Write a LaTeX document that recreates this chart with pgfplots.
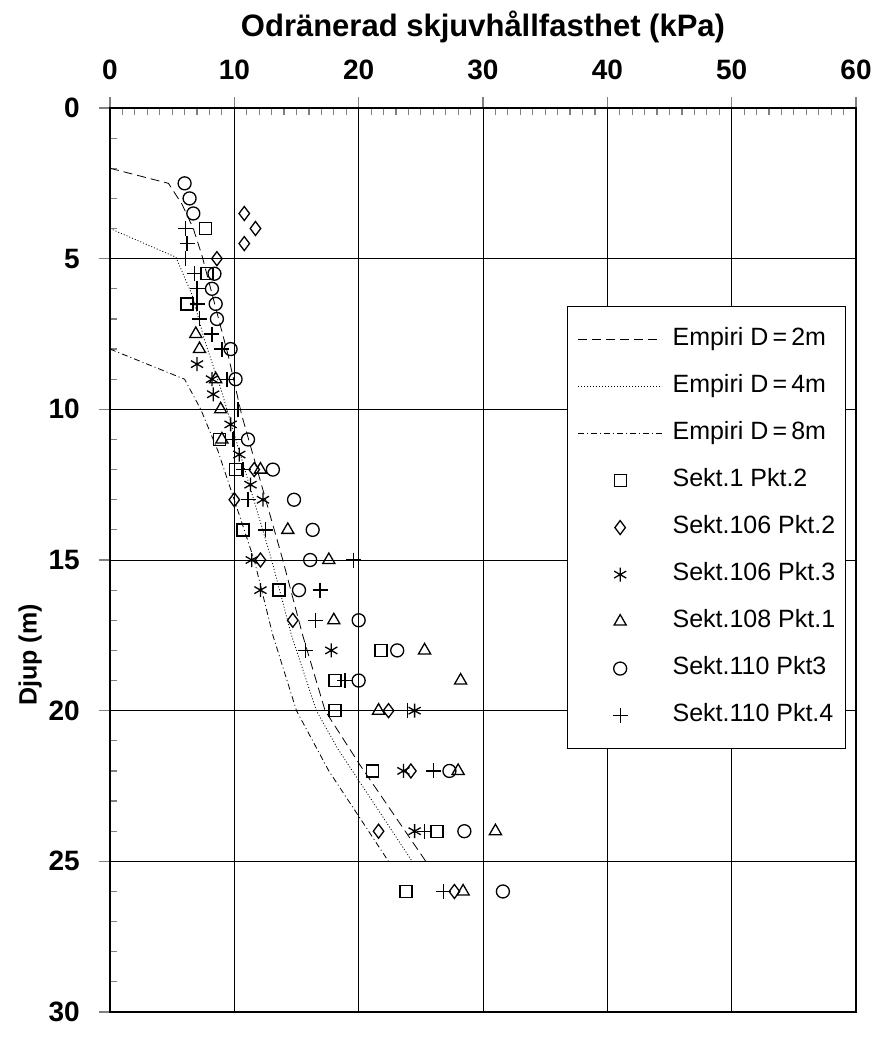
\documentclass[border=0pt]{standalone}
\usepackage{fontspec}
\setmainfont{Liberation Sans}
\usepackage{pgfplots}
\pgfplotsset{compat=1.18}

\begin{document}
\begin{tikzpicture}
\useasboundingbox (-110pt,-31pt) rectangle (762pt,1012pt);
\begin{axis}[
    scale only axis,
    width=746pt, height=904pt,
    xmin=0, xmax=60, ymin=0, ymax=30,
    y dir=reverse,
    xtick={0,10,...,60}, ytick={0,5,...,30},
    minor x tick num=9, minor y tick num=4,
    xtick pos=upper, xticklabel pos=upper,
    ytick pos=left,
    tick align=outside,
    major tick length=11pt, minor tick length=-7pt,
    major tick style={line width=1.2pt},
    minor tick style={line width=1.2pt},
    grid=major,
    major grid style={black, line width=0.8pt},
    axis line style={line width=1.5pt},
    xticklabel={\textbf{\pgfmathprintnumber[assume math mode=true]{\tick}}},
    yticklabel={\textbf{\pgfmathprintnumber[assume math mode=true]{\tick}}},
    tick label style={font=\fontsize{28}{28}\selectfont, inner sep=0pt},
    xticklabel style={anchor=south, yshift=17pt},
    yticklabel style={anchor=east, xshift=-19pt},
    xlabel={\bfseries Odränerad skjuvhållfasthet (kPa)},
    xlabel style={font=\fontsize{31}{31}\selectfont, at={(axis description cs:0.5,1)}, anchor=base, yshift=72pt},
    ylabel={\bfseries Djup (m)},
    ylabel style={font=\fontsize{25}{25}\selectfont, at={(axis description cs:-0.107,0.395)}, anchor=center},
    legend image code/.code={\draw[mark repeat=2, mark phase=2, #1] plot coordinates {(0pt,0pt) (42pt,0pt) (84pt,0pt)};},
    legend cell align=left,
    legend style={at={(axis cs:36.77,6.57)}, anchor=north west, draw=black, line width=1.2pt, fill=white,
        font=\fontsize{25}{29}\selectfont, row sep=25pt, column sep=10pt, inner xsep=10pt, inner ysep=22pt,
        nodes={inner sep=0pt, text height=17pt, text depth=5pt}},
]
\addplot[black, line width=0.8pt, dash pattern=on 9pt off 5pt] coordinates {
    (0,2) (4.7,2.5) (5.8,3.2) (6.7,4.0) (7.4,4.9) (9.5,8.2) (10.6,10.2)
    (13.9,15) (15.5,17.5) (17.3,20) (20.1,21.8) (25.4,25)};
\addlegendentry{Empiri D\thinspace=\thinspace2m}
\addplot[black, line width=0.8pt, dash pattern=on 1pt off 2pt] coordinates {
    (0,4) (5.3,4.95) (6.6,6.2) (7.6,7.7) (8.9,9.3) (13.0,15)
    (14.6,17.5) (16.6,20) (18.3,21.25) (24.3,25)};
\addlegendentry{Empiri D\thinspace=\thinspace4m}
\addplot[black, line width=0.8pt, dash pattern=on 6pt off 3pt on 1pt off 3pt] coordinates {
    (0,8) (6.0,9.0) (7.3,10) (8.7,11.4) (11.6,15) (13.1,17.5)
    (15.0,20) (17.6,22) (22.4,25)};
\addlegendentry{Empiri D\thinspace=\thinspace8m}
\addplot[only marks, mark=square, mark size=6pt, mark options={black, line width=1.3pt, solid}] coordinates {
    (7.7,4.0) (7.8,5.5) (6.2,6.5) (8.8,11.0) (10.1,12.0) (10.7,14.0) (13.6,16.0)
    (21.8,18.0) (18.1,19.0) (18.1,20.0) (21.1,22.0) (26.3,24.0) (23.8,26.0)};
\addlegendentry{Sekt.1 Pkt.2}
\addplot[only marks, mark=diamond, mark size=7pt, mark options={black, line width=1.3pt, solid}] coordinates {
    (10.8,3.5) (11.7,4.0) (10.8,4.5) (8.6,5.0) (11.6,12.0) (10.0,13.0) (12.1,15.0)
    (14.7,17.0) (22.4,20.0) (24.2,22.0) (21.6,24.0) (27.7,26.0)};
\addlegendentry{Sekt.106 Pkt.2}
\addplot[only marks, mark=asterisk, mark size=7pt, mark options={black, line width=1.3pt, solid}] coordinates {
    (7.0,8.5) (8.2,9.0) (8.3,9.5) (9.7,10.5) (10.4,11.5) (11.3,12.5) (12.3,13.0)
    (11.4,15.0) (12.1,16.0) (17.8,18.0) (24.5,20.0) (23.6,22.0) (24.5,24.0)};
\addlegendentry{Sekt.106 Pkt.3}
\addplot[only marks, mark=triangle, mark size=7pt, mark options={black, line width=1.3pt, solid}] coordinates {
    (6.9,7.5) (7.2,8.0) (8.5,9.0) (8.9,10.0) (9.0,11.0) (12.1,12.0) (14.3,14.0)
    (17.6,15.0) (18.0,17.0) (25.3,18.0) (28.2,19.0) (21.6,20.0) (28.0,22.0)
    (31.0,24.0) (28.4,26.0)};
\addlegendentry{Sekt.108 Pkt.1}
\addplot[only marks, mark=o, mark size=6.5pt, mark options={black, line width=1.3pt, solid}] coordinates {
    (6.0,2.5) (6.4,3.0) (6.7,3.5) (8.4,5.5) (8.2,6.0) (8.5,6.5) (8.6,7.0) (9.7,8.0)
    (10.1,9.0) (11.1,11.0) (13.1,12.0) (14.8,13.0) (16.3,14.0) (16.1,15.0) (15.2,16.0)
    (20.0,17.0) (23.1,18.0) (20.0,19.0) (27.3,22.0) (28.5,24.0) (31.6,26.0)};
\addlegendentry{Sekt.110 Pkt3}
\addplot[only marks, mark=+, mark size=7.5pt, mark options={black, line width=1.3pt, solid}] coordinates {
    (6.1,4.0) (6.2,4.5) (6.1,5.0) (6.8,5.5) (7.0,6.0) (7.0,6.5) (7.2,7.0) (8.2,7.5)
    (9.0,8.0) (9.4,9.0) (10.3,10.0) (9.9,11.0) (10.7,12.0) (11.1,13.0) (12.5,14.0)
    (19.6,15.0) (16.9,16.0) (16.5,17.0) (15.7,18.0) (18.9,19.0) (23.9,20.0)
    (26.0,22.0) (25.3,24.0) (26.8,26.0)};
\addlegendentry{Sekt.110 Pkt.4}
\end{axis}
\end{tikzpicture}
\end{document}
